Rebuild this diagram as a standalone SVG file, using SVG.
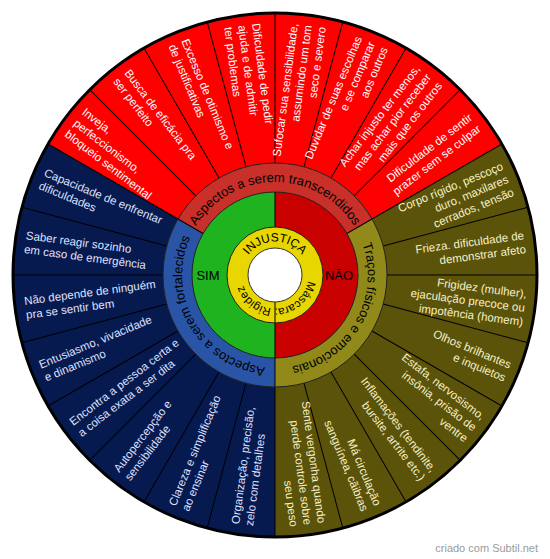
<svg xmlns="http://www.w3.org/2000/svg" width="550" height="559" viewBox="0 0 550 559">
<style>
.seg{font-family:"Liberation Sans",Arial,sans-serif;font-size:11.5px}
.wt{fill:#ffffff}
.bt{fill:#dfe0ff}
.ot{fill:#f6f0c4}
.l{text-anchor:start}
.r{text-anchor:end}
.lbl{font-family:"Liberation Sans",Arial,sans-serif;font-size:13px;fill:#000;text-anchor:middle}
.div{stroke:#000;stroke-width:1}
.ring{fill:none;stroke:#222;stroke-width:1}
</style>
<defs>
<path id="pTop" d="M182,275 A93,93 0 0 1 368,275"/>
<path id="pLeft" d="M321.5,355.54 A93,93 0 0 1 228.5,194.46"/>
<path id="pRight" d="M321.5,194.46 A93,93 0 0 1 228.5,355.54"/>
<path id="pInj" d="M241.5,275 A33.5,33.5 0 0 1 308.5,275"/>
<path id="pMas" d="M308.17,270.34 A33.5,33.5 0 1 1 241.5,275"/>
</defs>

<g id="outer-sectors">
<path d="M275,275 L48.1,144 A262,262 0 0 1 501.9,144 Z" fill="#ff0000"/>
<path d="M275,275 L275,537 A262,262 0 0 1 48.1,144 Z" fill="#071a4f"/>
<path d="M275,275 L501.9,144 A262,262 0 0 1 275,537 Z" fill="#5b530a"/>
</g>

<g id="connectors" transform="translate(275,275)">
<g class="div">
<line x1="112" y1="0" x2="261" y2="0" transform="rotate(0)"/>
<line x1="112" y1="0" x2="261" y2="0" transform="rotate(15)"/>
<line x1="112" y1="0" x2="261" y2="0" transform="rotate(30)"/>
<line x1="112" y1="0" x2="261" y2="0" transform="rotate(45)"/>
<line x1="112" y1="0" x2="261" y2="0" transform="rotate(60)"/>
<line x1="112" y1="0" x2="261" y2="0" transform="rotate(75)"/>
<line x1="112" y1="0" x2="261" y2="0" transform="rotate(90)"/>
<line x1="112" y1="0" x2="261" y2="0" transform="rotate(105)"/>
<line x1="112" y1="0" x2="261" y2="0" transform="rotate(120)"/>
<line x1="112" y1="0" x2="261" y2="0" transform="rotate(135)"/>
<line x1="112" y1="0" x2="261" y2="0" transform="rotate(150)"/>
<line x1="112" y1="0" x2="261" y2="0" transform="rotate(165)"/>
<line x1="112" y1="0" x2="261" y2="0" transform="rotate(180)"/>
<line x1="112" y1="0" x2="261" y2="0" transform="rotate(195)"/>
<line x1="112" y1="0" x2="261" y2="0" transform="rotate(210)"/>
<line x1="112" y1="0" x2="261" y2="0" transform="rotate(225)"/>
<line x1="112" y1="0" x2="261" y2="0" transform="rotate(240)"/>
<line x1="112" y1="0" x2="261" y2="0" transform="rotate(255)"/>
<line x1="112" y1="0" x2="261" y2="0" transform="rotate(270)"/>
<line x1="112" y1="0" x2="261" y2="0" transform="rotate(285)"/>
<line x1="112" y1="0" x2="261" y2="0" transform="rotate(300)"/>
<line x1="112" y1="0" x2="261" y2="0" transform="rotate(315)"/>
<line x1="112" y1="0" x2="261" y2="0" transform="rotate(330)"/>
<line x1="112" y1="0" x2="261" y2="0" transform="rotate(345)"/>
</g>
</g>

<g id="label-ring">
<path d="M275,275 L178,219 A112,112 0 0 1 372,219 Z" fill="#c9302a"/>
<path d="M275,275 L275,387 A112,112 0 0 1 178,219 Z" fill="#2a55a6"/>
<path d="M275,275 L372,219 A112,112 0 0 1 275,387 Z" fill="#918a1b"/>
<circle cx="275" cy="275" r="112" class="ring"/>
<g class="div" transform="translate(275,275)">
<line x1="83" y1="0" x2="112" y2="0" transform="rotate(90)"/>
<line x1="83" y1="0" x2="112" y2="0" transform="rotate(210)"/>
<line x1="83" y1="0" x2="112" y2="0" transform="rotate(330)"/>
</g>
</g>

<g id="center">
<path d="M275,192 A83,83 0 0 0 275,358 Z" fill="#1fb41f"/>
<path d="M275,192 A83,83 0 0 1 275,358 Z" fill="#c80000"/>
<circle cx="275" cy="275" r="83" class="ring"/>
<line x1="275" y1="192" x2="275" y2="358" class="div"/>
<circle cx="275" cy="275" r="48" fill="#e8d600" stroke="#222" stroke-width="1"/>
<line x1="275" y1="302" x2="275" y2="323" class="div"/>
<circle cx="275" cy="275" r="27" fill="#ffffff" stroke="#333" stroke-width="1"/>
</g>

<circle id="border" cx="275" cy="275" r="262" fill="none" stroke="#000" stroke-width="3"/>

<g id="label-transcendidos"><text class="lbl"><textPath href="#pTop" startOffset="50%">Aspectos a serem transcendidos</textPath></text></g>
<g id="label-fortalecidos"><text class="lbl"><textPath href="#pLeft" startOffset="50%">Aspectos a serem fortalecidos</textPath></text></g>
<g id="label-tracos"><text class="lbl"><textPath href="#pRight" startOffset="50%">Traços físicos e emocionais</textPath></text></g>
<g id="injustica"><text style="font-family:'Liberation Sans',Arial,sans-serif;font-size:12px;fill:#000;text-anchor:middle"><textPath href="#pInj" startOffset="50%">INJUSTIÇA</textPath></text></g>
<g id="mascara"><text style="font-family:'Liberation Sans',Arial,sans-serif;font-size:11.5px;fill:#000;text-anchor:middle"><textPath href="#pMas" startOffset="50%">Máscara: Rigidez</textPath></text></g>
<g id="sim"><text x="208" y="280" style="font-family:'Liberation Sans',Arial,sans-serif;font-size:13px;fill:#000;text-anchor:middle">SIM</text></g>
<g id="nao"><text x="339" y="280" style="font-family:'Liberation Sans',Arial,sans-serif;font-size:13px;fill:#000;text-anchor:middle">NÃO</text></g>

<g class="seg" transform="translate(275,275)">
<g id="b1" transform="rotate(22.5)" class="bt l"><text x="-252" y="-3">Capacidade de enfrentar</text><text x="-252" y="11">dificuldades</text></g>
<g id="b2" transform="rotate(7.5)" class="bt l"><text x="-252" y="-3">Saber reagir sozinho</text><text x="-252" y="11">em caso de emergência</text></g>
<g id="b3" transform="rotate(-7.5)" class="bt l"><text x="-252" y="-3">Não depende de ninguém</text><text x="-252" y="11">pra se sentir bem</text></g>
<g id="b4" transform="rotate(-22.5)" class="bt l"><text x="-252" y="-3">Entusiasmo, vivacidade</text><text x="-252" y="11">e dinamismo</text></g>
<g id="b5" transform="rotate(-37.5)" class="bt l"><text x="-252" y="-3">Encontra a pessoa certa e</text><text x="-252" y="11">a coisa exata a ser dita</text></g>
<g id="b6" transform="rotate(-52.5)" class="bt l"><text x="-252" y="-3">Autopercepção e</text><text x="-252" y="11">sensibilidade</text></g>
<g id="b7" transform="rotate(-67.5)" class="bt l"><text x="-252" y="-3">Clareza e simplificação</text><text x="-252" y="11">ao ensinar</text></g>
<g id="b8" transform="rotate(-82.5)" class="bt l"><text x="-252" y="-3">Organização, precisão,</text><text x="-252" y="11">zelo com detalhes</text></g>

<g id="r1" transform="rotate(37.5)" class="wt l"><text x="-252" y="-10">Inveja,</text><text x="-252" y="4">perfeccionismo,</text><text x="-252" y="18">bloqueio sentimental</text></g>
<g id="r2" transform="rotate(52.5)" class="wt l"><text x="-252" y="-3">Busca de eficácia pra</text><text x="-252" y="11">ser perfeito</text></g>
<g id="r3" transform="rotate(67.5)" class="wt l"><text x="-252" y="-3">Excesso de otimismo e</text><text x="-252" y="11">de justificativas</text></g>
<g id="r4" transform="rotate(82.5)" class="wt l"><text x="-252" y="-10">Dificuldade de pedir</text><text x="-252" y="4">ajuda e de admitir</text><text x="-252" y="18">ter problemas</text></g>
<g id="r5" transform="rotate(-82.5)" class="wt r"><text x="252" y="-10">Sufocar sua sensibilidade,</text><text x="252" y="4">assumindo um tom</text><text x="252" y="18">seco e severo</text></g>
<g id="r6" transform="rotate(-67.5)" class="wt r"><text x="252" y="-10">Duvidar de suas escolhas</text><text x="252" y="4">e se comparar</text><text x="252" y="18">aos outros</text></g>
<g id="r7" transform="rotate(-52.5)" class="wt r"><text x="252" y="-10">Achar injusto ter menos,</text><text x="252" y="4">mas achar pior receber</text><text x="252" y="18">mais que os outros</text></g>
<g id="r8" transform="rotate(-37.5)" class="wt r"><text x="252" y="-3">Dificuldade de sentir</text><text x="252" y="11">prazer sem se culpar</text></g>

<g id="o1" transform="rotate(-22.5)" class="ot r"><text x="252" y="-10">Corpo rígido, pescoço</text><text x="252" y="4">duro, maxilares</text><text x="252" y="18">cerrados, tensão</text></g>
<g id="o2" transform="rotate(-7.5)" class="ot r"><text x="252" y="-3">Frieza. dificuldade de</text><text x="252" y="11">demonstrar afeto</text></g>
<g id="o3" transform="rotate(7.5)" class="ot r"><text x="252" y="-10">Frigidez (mulher),</text><text x="252" y="4">ejaculação precoce ou</text><text x="252" y="18">impotência (homem)</text></g>
<g id="o4" transform="rotate(22.5)" class="ot r"><text x="252" y="-3">Olhos brilhantes</text><text x="252" y="11">e inquietos</text></g>
<g id="o5" transform="rotate(37.5)" class="ot r"><text x="252" y="-10">Estafa, nervosismo,</text><text x="252" y="4">insônia, prisão de</text><text x="252" y="18">ventre</text></g>
<g id="o6" transform="rotate(52.5)" class="ot r"><text x="252" y="-3">Inflamações (tendinite,</text><text x="252" y="11">bursite, artrite etc.)</text></g>
<g id="o7" transform="rotate(67.5)" class="ot r"><text x="252" y="-3">Má circulação</text><text x="252" y="11">sanguínea, cãibras</text></g>
<g id="o8" transform="rotate(82.5)" class="ot r"><text x="252" y="-10">Sente vergonha quando</text><text x="252" y="4">perde controle sobre</text><text x="252" y="18">seu peso</text></g>
</g>

<g id="footer"><text x="538" y="552" style="font-family:'Liberation Sans',Arial,sans-serif;font-size:11px;fill:#9a9a9a;text-anchor:end">criado com Subtil.net</text></g>
</svg>
